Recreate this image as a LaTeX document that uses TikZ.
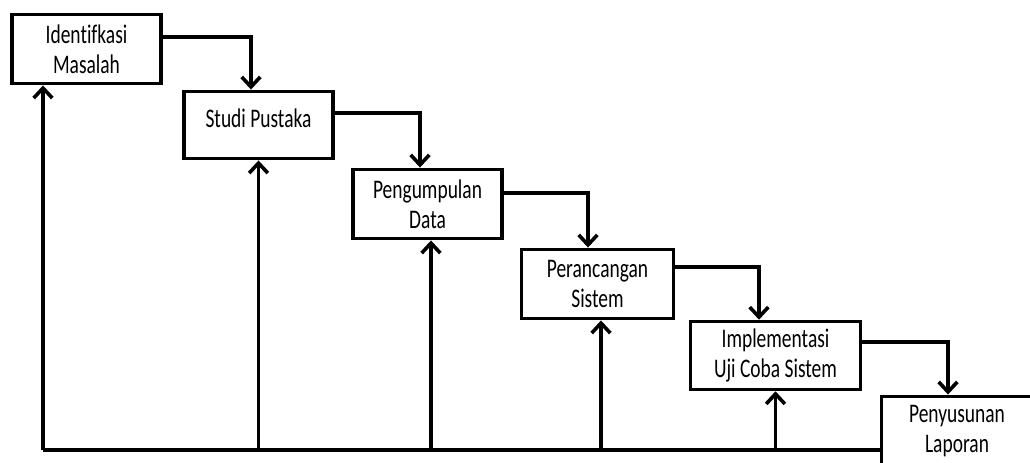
\documentclass[tikz,border=0pt]{standalone}
\usepackage{fontspec}
\setmainfont{Carlito}[Ligatures=NoCommon]
\usetikzlibrary{arrows.meta,calc}
\newcommand{\vtxt}[1]{\scalebox{1}[1.38]{#1}}
\begin{document}
\begin{tikzpicture}[x=0.75pt,y=-0.75pt,
  txt/.style={inner sep=0pt, align=center, font=\fontsize{14.6}{22.5}\selectfont},
  box/.style={txt, draw, line width=2.7pt, fill=white},
  conn/.style={line width=2.7pt, -{Straight Barb[length=7.5pt,width=14pt]}},
  plain/.style={line width=2.7pt}]
\clip (0,0) rectangle (1030,463);
\fill[white] (0,0) rectangle (1030,463);
\node[box, minimum width=112pt, minimum height=52pt] (b1) at (86.5,49) {\vtxt{Identifkasi}\\\vtxt{Masalah}};
\node[box, minimum width=112pt, minimum height=50.5pt] (b2) at (258.5,125) {};
\node[txt] (b2t) at ($(b2.center)+(0,-7)$) {\vtxt{Studi Pustaka}};
\node[box, minimum width=112pt, minimum height=52pt] (b3) at (427.5,204) {\vtxt{Pengumpulan}\\\vtxt{Data}};
\node[box, minimum width=114pt, minimum height=52pt] (b4) at (597.5,284) {\vtxt{Perancangan}\\\vtxt{Sistem}};
\node[box, minimum width=127.5pt, minimum height=51pt] (b5) at (775.5,355.5) {\vtxt{Implementasi}\\\vtxt{Uji Coba Sistem}};
\node[box, minimum width=113pt, minimum height=52pt] (b6) at (957,431) {\vtxt{Penyusunan}\\\vtxt{Laporan}};
% forward connectors
\draw[conn] ($(b1.east)+(0,-12)$) -| ($(b2.north)+(-7.5,0)$);
\draw[conn] ($(b2.east)+(0,-12)$) -| ($(b3.north)+(-7.5,0)$);
\draw[conn] ($(b3.east)+(0,-11)$) -| ($(b4.north)+(-9.5,0)$);
\draw[conn] ($(b4.east)+(0,-17)$) -| ($(b5.north)+(-16.5,0)$);
\draw[conn] ($(b5.east)+(0,-13.5)$) -| ($(b6.north)+(-9,0)$);
% feedback
\coordinate (base) at (43,450);
\draw[plain] (base) -- (base -| b6.west);
\draw[conn] (base) -- ($(b1.south)+(-43.5,0)$);
\draw[conn] (b2.south |- base) -- (b2.south);
\draw[conn] ($(b3.south |- base)+(3.5,0)$) -- ($(b3.south)+(3.5,0)$);
\draw[conn] ($(b4.south |- base)+(3.5,0)$) -- ($(b4.south)+(3.5,0)$);
\draw[conn] (b5.south |- base) -- (b5.south);
\end{tikzpicture}
\end{document}
